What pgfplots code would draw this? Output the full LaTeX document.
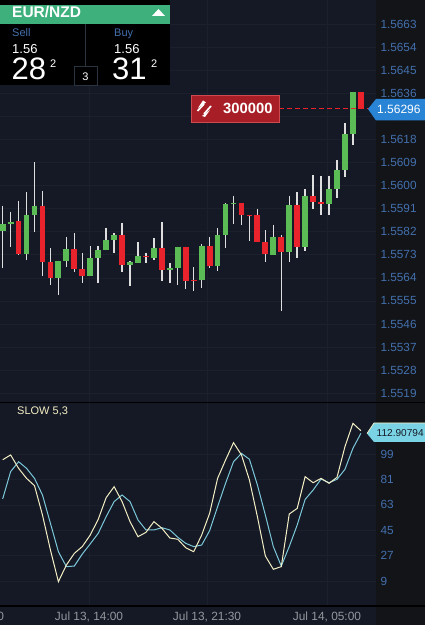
\documentclass[border=0pt]{standalone}
\usepackage{pgfplots}
\pgfplotsset{compat=1.18}
\usepackage{fontspec}
\setmainfont{Liberation Sans}
\definecolor{bgp}{HTML}{141925}
\definecolor{bgr}{HTML}{121418}
\definecolor{gridc}{HTML}{1A202C}
\definecolor{tickc}{HTML}{4470AE}
\definecolor{cgreen}{HTML}{5BBB55}
\definecolor{cred}{HTML}{E8232B}
\definecolor{cwick}{HTML}{DEDEDE}
\definecolor{cyel}{HTML}{F4EEC4}
\definecolor{ccy}{HTML}{7CC8DA}
\definecolor{panelg}{HTML}{3DB07C}
\definecolor{tagred}{HTML}{A81E26}
\definecolor{tagedge}{HTML}{CF4A4F}
\definecolor{tagblue}{HTML}{2A84D6}
\definecolor{tagcy}{HTML}{7AD3E4}
\definecolor{boxc}{HTML}{2A3340}
\newcommand{\fs}[1]{\fontsize{#1}{#1}\selectfont}
\begin{document}
\begin{tikzpicture}[x=1pt,y=1pt]
\useasboundingbox (0,0) rectangle (425,625);
\clip (0,0) rectangle (425,625);
\fill[bgp] (0,0) rectangle (425,625);
\fill[bgr] (376,0) rectangle (425,625);
\begin{axis}[
  at={(0pt,223pt)}, anchor=south west, scale only axis, width=376pt, height=402pt,
  xmin=-0.335, xmax=46.9, ymin=1.55156, ymax=1.567239,
  axis line style={draw=none}, tick style={draw=none},
  xtick={10.85,25.67,40.74}, xticklabels={},
  ytick={1.5519,1.5528,1.5537,1.5546,1.5555,1.5564,1.5573,1.5582,1.5591,1.5600,1.5609,1.5618,1.5627,1.5636,1.5645,1.5654,1.5663},
  grid=both, grid style={gridc, line width=0.7pt},
  yticklabel pos=right,
  y tick label style={/pgf/number format/.cd, fixed, precision=4, fixed zerofill, assume math mode=true, /tikz/.cd, font=\fs{11.8}, text=tickc, anchor=west, xshift=1pt},
  scaled y ticks=false, unbounded coords=jump, clip=true]
\addplot[cwick, line width=1.4pt, line cap=butt] coordinates {
(0,1.55922)(0,1.55680)(nan,nan)(1,1.55896)(1,1.55761)(nan,nan)(2,1.55941)(2,1.55729)(nan,nan)(3,1.55975)(3,1.55710)(nan,nan)
(4,1.56091)(4,1.55819)(nan,nan)(5,1.55979)(5,1.55648)(nan,nan)(6,1.55757)(6,1.55611)(nan,nan)(7,1.55706)(7,1.55574)(nan,nan)
(8,1.55800)(8,1.55682)(nan,nan)(9,1.55814)(9,1.55663)(nan,nan)(10,1.55736)(10,1.55621)(nan,nan)(11,1.55765)(11,1.55648)(nan,nan)
(12,1.55765)(12,1.55619)(nan,nan)(13,1.55836)(13,1.55749)(nan,nan)(14,1.55816)(14,1.55736)(nan,nan)(15,1.55854)(15,1.55663)(nan,nan)
(16,1.55706)(16,1.55609)(nan,nan)(17,1.55779)(17,1.55699)(nan,nan)(18,1.55738)(18,1.55699)(nan,nan)(19,1.55796)(19,1.55710)(nan,nan)
(20,1.55858)(20,1.55627)(nan,nan)(21,1.55697)(21,1.55619)(nan,nan)(22,1.55762)(22,1.55611)(nan,nan)(23,1.55762)(23,1.55596)(nan,nan)
(24,1.55682)(24,1.55590)(nan,nan)(25,1.55772)(25,1.55601)(nan,nan)(26,1.55800)(26,1.55679)(nan,nan)(27,1.55835)(27,1.55667)(nan,nan)
(28,1.55933)(28,1.55757)(nan,nan)(29,1.55960)(29,1.55850)(nan,nan)(30,1.55932)(30,1.55846)(nan,nan)(31,1.55885)(31,1.55784)(nan,nan)
(32,1.55910)(32,1.55781)(nan,nan)(33,1.55827)(33,1.55701)(nan,nan)(34,1.55848)(34,1.55731)(nan,nan)(35,1.55806)(35,1.55512)(nan,nan)
(36,1.55960)(36,1.55701)(nan,nan)(37,1.55976)(37,1.55719)(nan,nan)(38,1.55986)(38,1.55745)(nan,nan)(39,1.56041)(39,1.55910)(nan,nan)
(40,1.56038)(40,1.55887)(nan,nan)(41,1.56039)(41,1.55884)(nan,nan)(42,1.56100)(42,1.55953)(nan,nan)(43,1.56243)(43,1.56034)(nan,nan)
(44,1.56365)(44,1.56160)};
\addplot[cgreen, line width=5.8pt, line cap=butt] coordinates {
(0,1.55849)(0,1.55823)(nan,nan)(1,1.55859)(1,1.55849)(nan,nan)(3,1.55884)(3,1.55733)(nan,nan)(4,1.55922)(4,1.55884)(nan,nan)
(7,1.55705)(7,1.55639)(nan,nan)(8,1.55753)(8,1.55705)(nan,nan)(11,1.55718)(11,1.55648)(nan,nan)(12,1.55749)(12,1.55718)(nan,nan)
(13,1.55788)(13,1.55749)(nan,nan)(14,1.55809)(14,1.55788)(nan,nan)(16,1.55703)(16,1.55690)(nan,nan)(17,1.55726)(17,1.55700)(nan,nan)
(19,1.55757)(19,1.55718)(nan,nan)(21,1.55679)(21,1.55672)(nan,nan)(22,1.55762)(22,1.55679)(nan,nan)(25,1.55765)(25,1.55632)(nan,nan)
(27,1.55809)(27,1.55687)(nan,nan)(28,1.55928)(28,1.55809)(nan,nan)(29,1.55932)(29,1.55927)(nan,nan)(34,1.55800)(34,1.55731)(nan,nan)
(36,1.55924)(36,1.55741)(nan,nan)(38,1.55960)(38,1.55762)(nan,nan)(41,1.55988)(41,1.55928)(nan,nan)(42,1.56060)(42,1.55988)(nan,nan)
(43,1.56200)(43,1.56060)(nan,nan)(44,1.56365)(44,1.56201)};
\addplot[cred, line width=5.8pt, line cap=butt] coordinates {
(2,1.55862)(2,1.55732)(nan,nan)(5,1.55922)(5,1.55703)(nan,nan)(6,1.55702)(6,1.55639)(nan,nan)(9,1.55754)(9,1.55676)(nan,nan)
(10,1.55676)(10,1.55648)(nan,nan)(15,1.55809)(15,1.55692)(nan,nan)(18,1.55726)(18,1.55721)(nan,nan)(20,1.55757)(20,1.55671)(nan,nan)
(23,1.55762)(23,1.55629)(nan,nan)(24,1.55633)(24,1.55628)(nan,nan)(26,1.55765)(26,1.55687)(nan,nan)(30,1.55931)(30,1.55887)(nan,nan)
(31,1.55885)(31,1.55882)(nan,nan)(32,1.55885)(32,1.55781)(nan,nan)(33,1.55781)(33,1.55732)(nan,nan)(35,1.55801)(35,1.55741)(nan,nan)
(37,1.55924)(37,1.55762)(nan,nan)(39,1.55960)(39,1.55936)(nan,nan)(40,1.55937)(40,1.55930)(nan,nan)(45,1.56365)(45,1.56300)};
\end{axis}
\begin{axis}[
  at={(-50pt,19pt)}, anchor=south west, scale only axis, width=426pt, height=203pt,
  xmin=-6.617, xmax=46.9, ymin=-8.73, ymax=135.24,
  axis line style={draw=none}, tick style={draw=none},
  xtick={-4.1,10.85,25.67,40.74},
  xticklabels={{Jul 13, 06:30},{Jul 13, 14:00},{Jul 13, 21:30},{Jul 14, 05:00}},
  ytick={9,27,45,63,81,99},
  grid=both, grid style={gridc, line width=0.7pt},
  yticklabel pos=right,
  y tick label style={/pgf/number format/assume math mode=true, font=\fs{11.8}, text=tickc, anchor=west, xshift=1pt},
  x tick label style={font=\fs{11.9}, text=white!55!bgp, yshift=-2.5pt},
  clip=true]
\addplot[ccy, line width=1pt] coordinates {
(0,67.2)(1,86.6)(2,93.6)(3,88.9)(4,81.8)(5,70)(6,49.9)(7,29.8)(8,19.2)(9,19.6)(10,28.1)(11,35.3)(12,42.8)(13,54.6)(14,65.3)(15,70)
(16,65.3)(17,52.3)(18,45.2)(19,45.2)(20,46.8)(21,45.2)(22,40)(23,35.7)(24,33.4)(25,34.5)(26,44.7)(27,61.7)(28,78.3)(29,93.6)(30,99.5)
(31,95.3)(32,77.1)(33,55.8)(34,33.4)(35,19.6)(36,33.4)(37,48.7)(38,66.9)(39,73.5)(40,81.3)(41,78.7)(42,81.1)(43,88.2)(44,103.1)(45,113.7)};
\addplot[cyel, line width=1pt] coordinates {
(0,95)(1,98.4)(2,88.9)(3,81.8)(4,76.6)(5,55.8)(6,31)(7,8.5)(8,20.3)(9,28.6)(10,33.4)(11,41.6)(12,52.7)(13,68.1)(14,75.9)(15,65.3)
(16,51.1)(17,40.4)(18,43.5)(19,51.1)(20,46.4)(21,39.5)(22,38.6)(23,32.6)(24,29.8)(25,41.6)(26,57)(27,81.8)(28,94.8)(29,107.1)(30,98.4)
(31,80.6)(32,54.6)(33,26.7)(34,17.3)(35,19.2)(36,56.5)(37,60.5)(38,83)(39,78.7)(40,81.8)(41,78.3)(42,82.5)(43,104.3)(44,120.8)(45,115.6)};
\end{axis}
% separators
\draw[black, line width=1.5pt] (0,222.5) -- (425,222.5);
\draw[black, line width=1.2pt] (0,19) -- (425,19);
\node[anchor=base west, inner sep=0, text=cyel, font=\fs{11}] at (17,210) {SLOW 5,3};
% panel
\fill[black] (0,620) rectangle (170,625);
\fill[panelg] (0,601) rectangle (170,620);
\fill[black] (0,540) rectangle (170,601);
\draw[boxc, line width=1pt] (85,540) -- (85,601);
\node[anchor=base west, inner sep=0, text=white, font=\bfseries\fs{15.5}] at (12,607.5) {EUR/NZD};
\fill[white] (152,609) -- (165,609) -- (158.5,616) -- cycle;
\node[anchor=base west, inner sep=0, text=tickc, font=\fs{11}] at (12,588) {Sell};
\node[anchor=base west, inner sep=0, text=tickc, font=\fs{11}] at (114,588) {Buy};
\node[anchor=base west, inner sep=0, text=white, font=\fs{13}] at (12,571) {1.56};
\node[anchor=base west, inner sep=0, text=white, font=\fs{13}] at (114,571) {1.56};
\node[anchor=base west, inner sep=0, text=white, font=\fs{31}] at (11.5,545) {28};
\node[anchor=base west, inner sep=0, text=white, font=\fs{31}] at (112,545) {31};
\node[anchor=base west, inner sep=0, text=white, font=\fs{11}] at (50,557) {2};
\node[anchor=base west, inner sep=0, text=white, font=\fs{11}] at (151,557) {2};
\draw[boxc, line width=0.7pt, fill=black] (74,540) rectangle (97,559);
\node[anchor=base, inner sep=0, text=white, font=\fs{11}] at (85.5,544) {3};
% order line & tags
\draw[cred, line width=0.9pt, dash pattern=on 5pt off 3pt] (279,516.5) -- (370,516.5);
\fill[tagred] (191,503) rectangle (279,530);
\draw[tagedge, line width=0.7pt] (191,503) rectangle (279,530);
\draw[white, line width=1.7pt] (197.5,514) -- (204,521);
\draw[white, line width=1.7pt] (204,511) -- (211,519);
\fill[white] (206,522.5) -- (198,517) -- (203,524.5) -- cycle;
\fill[white] (202,509) -- (210,515) -- (205,508) -- cycle;
\node[anchor=base west, inner sep=0, text=white, font=\bfseries\fs{14.8}] at (223,511) {300000};
\fill[tagblue] (368,516) -- (376,526) -- (425,526) -- (425,504.5) -- (376,504.5) -- cycle;
\node[anchor=base west, inner sep=0, text=white, font=\fs{12}] at (377,511.3) {1.56296};
\fill[tagcy] (367,191.5) -- (374,202) -- (425,202) -- (425,183) -- (374,183) -- cycle;
\draw[cyel, line width=0.7pt] (367,191.5) -- (374,202) -- (425,202);
\node[anchor=base west, inner sep=0, text=bgp, font=\fs{10.1}] at (376.5,188) {112.90794};
\end{tikzpicture}
\end{document}
